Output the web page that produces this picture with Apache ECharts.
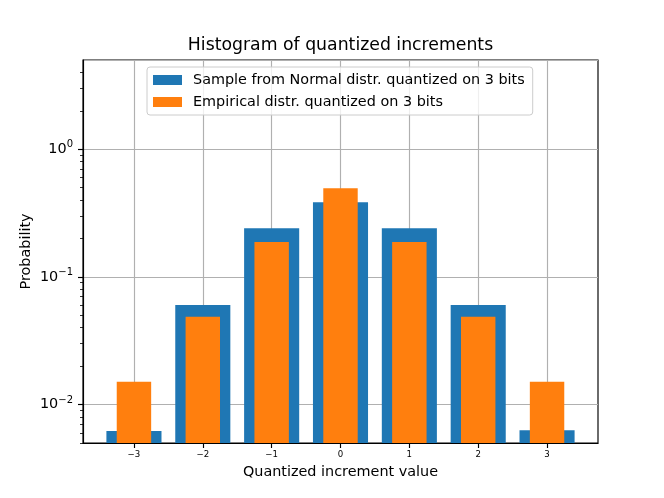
<!DOCTYPE html>
<html>
<head>
<meta charset="utf-8">
<script src="https://cdn.jsdelivr.net/npm/echarts@6/dist/echarts.min.js"></script>
<style>
html,body{margin:0;padding:0;background:#fff;}
#chart{width:664px;height:498px;}
</style>
</head>
<body>
<div id="chart"></div>
<script>
const categories = [-3, -2, -1, 0, 1, 2, 3];
const normalValues = [0.0062, 0.0603, 0.241, 0.384, 0.241, 0.0603, 0.0063];
const empiricalValues = [0.0151, 0.0488, 0.188, 0.494, 0.188, 0.0488, 0.0151];
const xTicks = [-3, -2, -1, 0, 1, 2, 3];
const yMajorTicks = [0.01, 0.1, 1];
const yMinorTicks = [0.005, 0.006, 0.007, 0.008, 0.009, 0.02, 0.03, 0.04, 0.05, 0.06, 0.07, 0.08, 0.09,
                     0.2, 0.3, 0.4, 0.5, 0.6, 0.7, 0.8, 0.9, 2, 3, 4];

const Y_MIN = 0.005, Y_MAX = 5;
const X_MIN = -3.74, X_MAX = 3.74;
const FONT = 'DejaVu Sans';

function minusSign(s) { return String(s).replace('-', '\u2212'); }

function barRenderer(width) {
  return function (params, api) {
    const x = api.value(0), y = api.value(1);
    const p1 = api.coord([x - width / 2, y]);
    const p2 = api.coord([x + width / 2, Y_MIN]);
    return {
      type: 'rect',
      shape: { x: p1[0], y: p1[1], width: p2[0] - p1[0], height: p2[1] - p1[1] },
      style: api.style()
    };
  };
}

const chart = echarts.init(document.getElementById('chart'), null, { renderer: 'canvas' });
chart.setOption({
  animation: false,
  backgroundColor: '#fff',
  textStyle: { fontFamily: FONT },
  title: {
    text: 'Histogram of quantized increments',
    left: 340.5, textAlign: 'center', top: 37.5, padding: 0,
    textStyle: { fontFamily: FONT, fontSize: 17.3, fontWeight: 'normal', color: '#000' }
  },
  legend: {
    orient: 'vertical', left: 147, top: 67,
    padding: [6, 8, 6, 6],
    itemWidth: 29, itemHeight: 10, itemGap: 8,
    borderColor: '#cccccc', borderWidth: 1, borderRadius: 3,
    backgroundColor: 'rgba(255,255,255,0.8)',
    icon: 'rect',
    textStyle: { fontFamily: FONT, fontSize: 14.4, color: '#000', padding: [0, 0, 0, 6] },
    data: ['Sample from Normal distr. quantized on 3 bits', 'Empirical distr. quantized on 3 bits']
  },
  grid: {
    left: 83, right: 66, top: 60, bottom: 55,
    show: true, borderColor: '#000', borderWidth: 1.15, backgroundColor: 'transparent'
  },
  xAxis: {
    type: 'value', min: X_MIN, max: X_MAX,
    name: 'Quantized increment value', nameLocation: 'middle', nameGap: 22,
    nameTextStyle: { fontFamily: FONT, fontSize: 14.4, color: '#000' },
    axisLine: { show: true, onZero: false, lineStyle: { color: '#000', width: 1.15 } },
    axisTick: { show: true, customValues: xTicks, length: 5, lineStyle: { color: '#000', width: 1.15 } },
    axisLabel: { customValues: xTicks, formatter: v => minusSign(v), margin: 7,
      fontFamily: FONT, fontSize: 8.6, color: '#000' },
    splitLine: { show: true, lineStyle: { color: '#b0b0b0', width: 1.15 } }
  },
  yAxis: [
    {
      type: 'log', logBase: 10, min: Y_MIN, max: Y_MAX, position: 'left',
      name: 'Probability', nameLocation: 'middle', nameGap: 50,
      nameTextStyle: { fontFamily: FONT, fontSize: 14.4, color: '#000' },
      axisLine: { show: true, onZero: false, lineStyle: { color: '#000', width: 1.15 } },
      axisTick: { show: false },
      axisLabel: { show: false },
      splitLine: { show: true, lineStyle: { color: '#b0b0b0', width: 1.15 } }
    },
    {
      type: 'value', min: Math.log10(Y_MIN), max: Math.log10(Y_MAX), position: 'left',
      axisLine: { show: false, onZero: false },
      splitLine: { show: false },
      axisTick: { show: true, customValues: yMajorTicks.map(Math.log10), length: 5,
        lineStyle: { color: '#000', width: 1.15 } },
      axisLabel: {
        customValues: yMajorTicks.map(Math.log10), margin: 10,
        formatter: v => '{b|10}{s|' + minusSign(Math.round(v)) + '}',
        rich: {
          b: { fontFamily: FONT, fontSize: 14.4, color: '#000' },
          s: { fontFamily: FONT, fontSize: 10, color: '#000', padding: [0, 0, 9, 0] }
        }
      }
    },
    {
      type: 'value', min: Math.log10(Y_MIN), max: Math.log10(Y_MAX), position: 'left',
      axisLine: { show: false, onZero: false },
      splitLine: { show: false },
      axisLabel: { show: false },
      axisTick: { show: true, customValues: yMinorTicks.map(Math.log10), length: 3,
        lineStyle: { color: '#000', width: 0.8 } }
    }
  ],
  series: [
    {
      name: 'Sample from Normal distr. quantized on 3 bits',
      type: 'custom', xAxisIndex: 0, yAxisIndex: 0,
      itemStyle: { color: '#1f77b4' },
      encode: { x: 0, y: 1 },
      renderItem: barRenderer(0.8),
      data: categories.map((c, i) => [c, normalValues[i]])
    },
    {
      name: 'Empirical distr. quantized on 3 bits',
      type: 'custom', xAxisIndex: 0, yAxisIndex: 0,
      itemStyle: { color: '#ff7f0e' },
      encode: { x: 0, y: 1 },
      renderItem: barRenderer(0.5),
      data: categories.map((c, i) => [c, empiricalValues[i]])
    }
  ]
});
</script>
</body>
</html>
